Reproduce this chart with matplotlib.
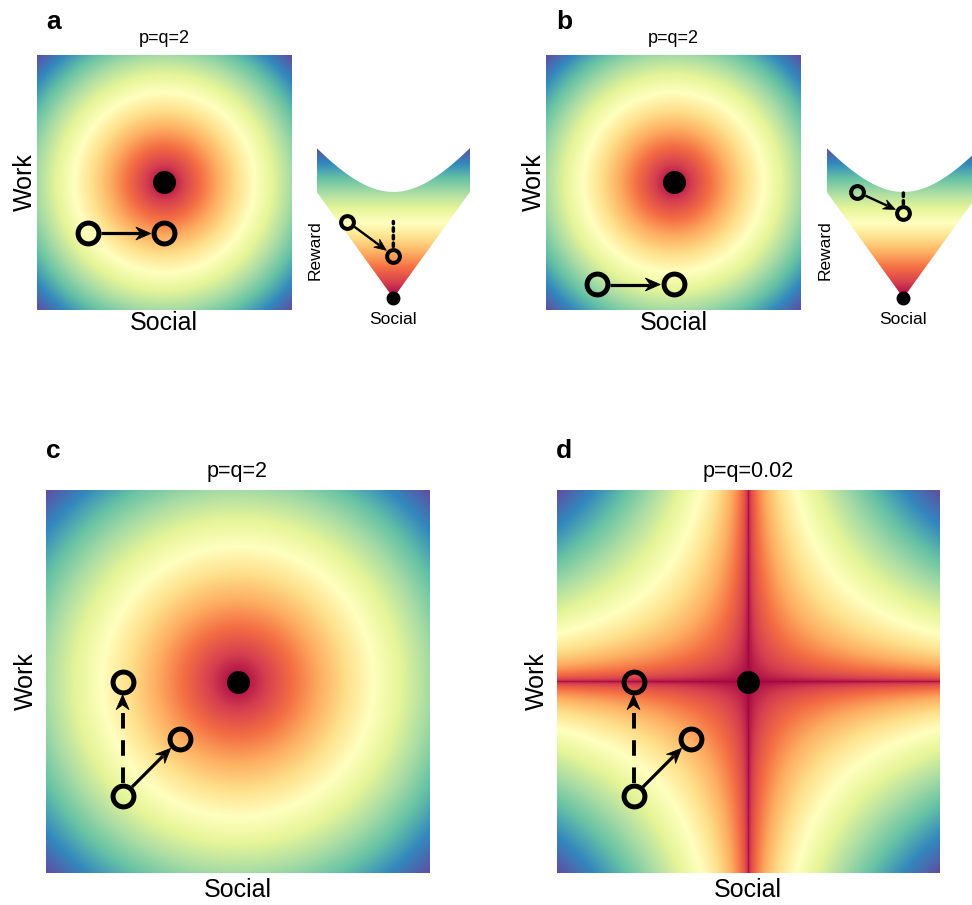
import numpy as np
import matplotlib.pyplot as plt

plt.rcParams['font.family'] = ['Liberation Sans', 'DejaVu Sans']

W, H = 972, 905

# 패널 정보
panel_letters = ['a', 'b', 'c', 'd']
panel_p = [2, 2, 2, 0.02]
panel_titles = ['p=q=2', 'p=q=2', 'p=q=2', 'p=q=0.02']

# a, b: 한 번의 수평 이동 (social, work)
move_a = [(-0.6, -0.4), (0.0, -0.4)]
move_b = [(-0.6, -0.8), (0.0, -0.8)]
# c, d: 공통 시작점, 점선 이동(work 방향), 실선 이동(대각선)
start_cd = (-0.6, -0.6)
dashed_end_cd = (-0.6, 0.0)
solid_end_cd = (-0.3, -0.3)
optimum = (0.0, 0.0)

fig = plt.figure(figsize=(W / 100, H / 100), dpi=100)
K = fig.dpi / 72  # pt -> px


def px_axes(x0, y0, x1, y1):
    return fig.add_axes([x0 / W, 1 - y1 / H, (x1 - x0) / W, (y1 - y0) / H])


def ftext(x, y, s, **kw):
    fig.text(x / W, 1 - y / H, s, **kw)


def clean(ax):
    ax.set_xticks([])
    ax.set_yticks([])
    for s in ax.spines.values():
        s.set_visible(False)


def reward_map(p, n=601):
    g = np.linspace(-1, 1, n)
    X, Y = np.meshgrid(g, g)
    f = (np.abs(X) ** p + np.abs(Y) ** p) ** (1.0 / p)
    return f / f.max()


def draw_map(ax, p):
    ax.imshow(reward_map(p), cmap='Spectral', origin='lower', extent=[-1, 1, -1, 1],
              aspect='auto', vmin=0, vmax=1, interpolation='bilinear')
    ax.set_xlim(-1, 1)
    ax.set_ylim(-1, 1)
    clean(ax)
    ax.plot(*optimum, 'o', ms=15.5, color='k')


def open_circle(ax, pt, ms=15, mew=3.6):
    ax.plot(pt[0], pt[1], 'o', ms=ms, mfc='none', mec='k', mew=mew, clip_on=False, zorder=5)


def arrow(ax, start, end, lw=2.3, shrink=9.5, ls='-', head=15, half=6.5):
    # shrink: pt, head/half: 화살촉 길이와 반폭(px)
    T = ax.transData
    s = T.transform(start)
    e = T.transform(end)
    d = e - s
    u = d / np.hypot(*d)
    n = np.array([-u[1], u[0]])
    tip = e - u * shrink * K
    tail = s + u * shrink * K
    back = tip - u * head * 0.75
    inv = T.inverted()
    seg = inv.transform(np.array([tail, back]))
    ax.plot(seg[:, 0], seg[:, 1], color='k', lw=lw, ls=ls,
            solid_capstyle='butt', dash_capstyle='butt', zorder=4)
    # 오목한 뒤쪽을 가진 화살촉
    verts = np.array([tip,
                      tip - u * head + n * half,
                      tip - u * head * 0.68,
                      tip - u * head - n * half])
    ax.add_patch(plt.Polygon(inv.transform(verts), closed=True, facecolor='k',
                             edgecolor='k', lw=0.5, zorder=4))


def draw_section(ax, start, end):
    top = np.sqrt(2)
    grad = np.linspace(0, 1, 256)[:, None]
    im = ax.imshow(grad, cmap='Spectral', origin='lower', extent=[-1, 1, 0, top],
                   aspect='auto', vmin=0, vmax=1)
    xs = np.linspace(-1, 1, 201)
    lower = np.column_stack([xs, np.abs(xs)])
    upper = np.column_stack([xs[::-1], np.sqrt(xs[::-1] ** 2 + 1)])
    poly = plt.Polygon(np.vstack([lower, upper]), closed=True, facecolor='none',
                       edgecolor='none', transform=ax.transData)
    ax.add_patch(poly)
    im.set_clip_path(poly)
    ax.set_xlim(-1, 1)
    ax.set_ylim(0, top)
    clean(ax)
    s = (start[0], np.hypot(*start))
    e = (end[0], np.hypot(*end))
    ax.plot(0, 0, 'o', ms=9, color='k', clip_on=False)
    open_circle(ax, s, ms=9.2, mew=2.9)
    open_circle(ax, e, ms=9.2, mew=2.9)
    arrow(ax, s, e, lw=1.7, shrink=6.3, head=12, half=5)
    ax.annotate('', xy=(e[0], s[1]), xytext=e,
                arrowprops=dict(arrowstyle='-', color='k', lw=2.5, linestyle=(0, (1, 1.2)),
                                shrinkA=6.5, shrinkB=0))


# 패널 a, b
for box, sec, move in [((37, 55, 291, 310), (316.7, 148, 470, 298), move_a),
                       ((546, 55, 801, 310), (826.7, 148, 980, 298), move_b)]:
    ax = px_axes(*box)
    draw_map(ax, 2)
    open_circle(ax, move[0])
    open_circle(ax, move[1])
    arrow(ax, move[0], move[1])
    axs = px_axes(*sec)
    draw_section(axs, move[0], move[1])

# 패널 c, d
for box, p in [((46, 490, 429, 873), panel_p[2]), ((557, 490, 939.5, 873), panel_p[3])]:
    ax = px_axes(*box)
    draw_map(ax, p)
    for pt in [start_cd, dashed_end_cd, solid_end_cd]:
        open_circle(ax, pt)
    arrow(ax, start_cd, solid_end_cd)
    arrow(ax, start_cd, dashed_end_cd, lw=2.8, ls=(0, (4, 3)))

# 텍스트
big = 18
for i, (cx, tb, sb, wx, wy) in enumerate([(164, 43.3, 330, 31.7, 182.5),
                                          (673.5, 43.3, 330, 541, 182.5),
                                          (237.5, 476.7, 897, 33.3, 681.5),
                                          (748, 476.7, 897, 544.3, 681.5)]):
    ftext(cx, tb, panel_titles[i], ha='center', va='baseline', fontsize=13 if i < 2 else 15.5)
    ftext(cx, sb, 'Social', ha='center', va='baseline', fontsize=big)
    ftext(wx, wy, 'Work', ha='center', va='baseline', rotation=90,
          rotation_mode='anchor', fontsize=big)

for sx, rx in [(393.3, 319.3), (903.3, 829.3)]:
    ftext(sx, 324, 'Social', ha='center', va='baseline', fontsize=12.5)
    ftext(rx, 250, 'Reward', ha='center', va='baseline', rotation=90,
          rotation_mode='anchor', fontsize=12.5)

for letter, (lx, ly) in zip(panel_letters, [(46, 29), (556, 29), (46, 458.3), (556, 458.3)]):
    ftext(lx, ly, letter, ha='left', va='baseline', fontsize=19, fontweight='bold')

fig.savefig('out.png', dpi=100)
